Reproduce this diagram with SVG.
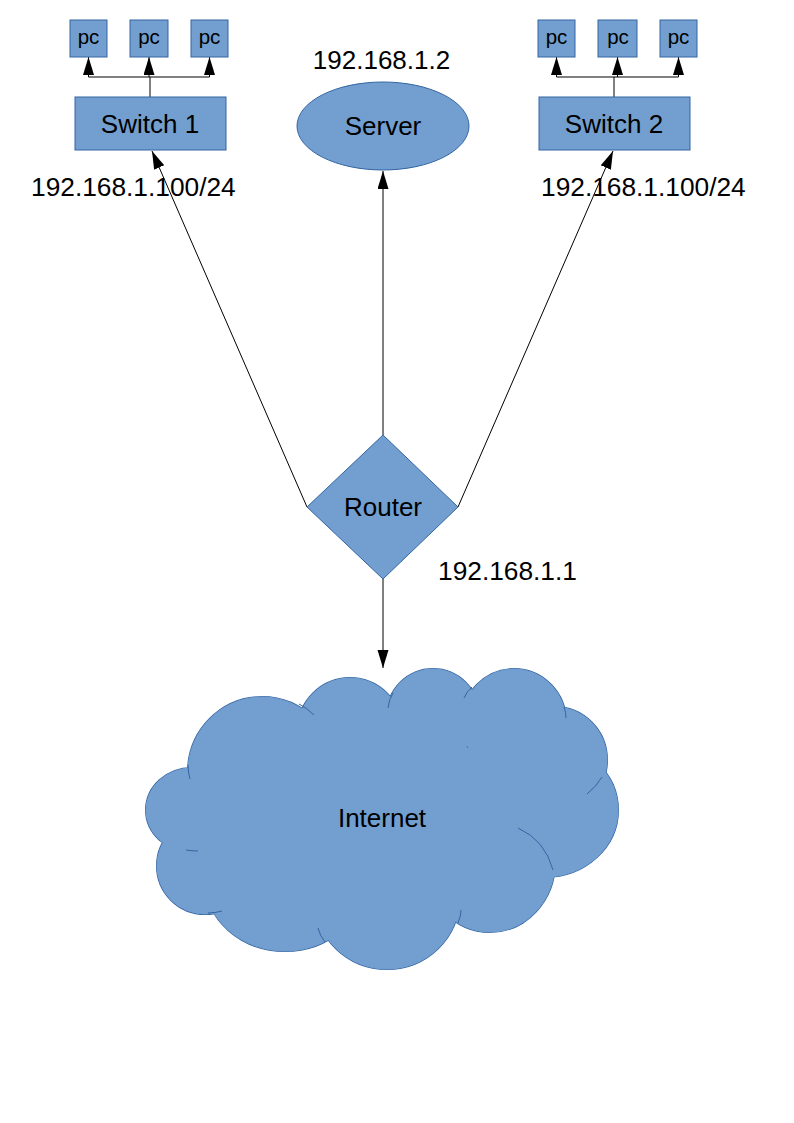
<svg xmlns="http://www.w3.org/2000/svg" xmlns:xlink="http://www.w3.org/1999/xlink" width="794" height="1123" viewBox="0 0 794 1123">
<style>
.shape{fill:#729fcf;stroke:#3465a4;stroke-width:1}
.lbl{font-family:"Liberation Sans",Arial,sans-serif;font-size:26px;fill:#000;text-anchor:middle}
.pc{font-family:"Liberation Sans",Arial,sans-serif;font-size:20.5px;fill:#000;text-anchor:middle}
.ip{font-family:"Liberation Sans",Arial,sans-serif;font-size:26.3px;fill:#000}
.conn{stroke:#000;stroke-width:1;fill:none}
.cfill{fill:#729fcf;stroke:#729fcf;stroke-width:1}
.cstroke{fill:#729fcf;stroke:#3465a4;stroke-width:2}
.hook{fill:none;stroke:#3465a4;stroke-width:1}
</style>
<defs>
<marker id="arr" markerUnits="userSpaceOnUse" markerWidth="18" markerHeight="12" refX="18" refY="5.5" orient="auto">
<path d="M0,0 L18,5.5 L0,11 z" fill="#000"/>
</marker>
<g id="cloudParts">
<ellipse cx="262" cy="772" rx="74" ry="75"/>
<ellipse cx="350" cy="730" rx="52" ry="52"/>
<ellipse cx="433" cy="715" rx="46" ry="46"/>
<ellipse cx="514" cy="722" rx="52" ry="53"/>
<ellipse cx="555" cy="760" rx="52" ry="53"/>
<ellipse cx="545" cy="810" rx="73" ry="67"/>
<ellipse cx="490" cy="862" rx="65" ry="70"/>
<ellipse cx="387" cy="899" rx="72" ry="70"/>
<ellipse cx="285" cy="880" rx="80" ry="71"/>
<ellipse cx="205" cy="866" rx="48" ry="48"/>
<ellipse cx="192" cy="810" rx="46" ry="42"/>
<ellipse cx="360" cy="820" rx="180" ry="90"/>
</g>
</defs>
<rect width="794" height="1123" fill="#fff"/>

<g id="connectors">
<line class="conn" x1="150" y1="97" x2="150" y2="77"/>
<line class="conn" x1="88.5" y1="77" x2="209.5" y2="77"/>
<line class="conn" x1="88.5" y1="77" x2="88.5" y2="57" marker-end="url(#arr)"/>
<line class="conn" x1="149" y1="77" x2="149" y2="57" marker-end="url(#arr)"/>
<line class="conn" x1="209.5" y1="77" x2="209.5" y2="57" marker-end="url(#arr)"/>
<line class="conn" x1="614" y1="97" x2="614" y2="77"/>
<line class="conn" x1="556.5" y1="77" x2="678.5" y2="77"/>
<line class="conn" x1="556.5" y1="77" x2="556.5" y2="57" marker-end="url(#arr)"/>
<line class="conn" x1="617.5" y1="77" x2="617.5" y2="57" marker-end="url(#arr)"/>
<line class="conn" x1="678.5" y1="77" x2="678.5" y2="57" marker-end="url(#arr)"/>
<line class="conn" x1="307" y1="507" x2="152" y2="151" marker-end="url(#arr)"/>
<line class="conn" x1="383" y1="435" x2="383" y2="171" marker-end="url(#arr)"/>
<line class="conn" x1="458" y1="507" x2="613" y2="151" marker-end="url(#arr)"/>
<line class="conn" x1="383" y1="579" x2="383" y2="668" marker-end="url(#arr)"/>
</g>

<g id="pc1"><rect class="shape" x="70" y="20" width="37" height="37"/><text class="pc" x="88.5" y="44">pc</text></g>
<g id="pc2"><rect class="shape" x="130" y="20" width="38" height="37"/><text class="pc" x="149" y="44">pc</text></g>
<g id="pc3"><rect class="shape" x="191" y="20" width="37" height="37"/><text class="pc" x="209.5" y="44">pc</text></g>
<g id="pc4"><rect class="shape" x="538" y="20" width="37" height="37"/><text class="pc" x="556.5" y="44">pc</text></g>
<g id="pc5"><rect class="shape" x="598" y="20" width="39" height="37"/><text class="pc" x="618" y="44">pc</text></g>
<g id="pc6"><rect class="shape" x="660" y="20" width="37" height="37"/><text class="pc" x="678.5" y="44">pc</text></g>

<g id="switch1"><rect class="shape" x="75" y="97" width="151" height="53"/><text class="lbl" x="150" y="133">Switch 1</text></g>
<g id="switch2"><rect class="shape" x="539" y="97" width="151" height="53"/><text class="lbl" x="614" y="133">Switch 2</text></g>

<g id="server"><ellipse class="shape" cx="383" cy="126" rx="86" ry="44"/><text class="lbl" x="383" y="135">Server</text></g>
<text class="lbl" x="381.5" y="69">192.168.1.2</text>

<g id="router"><path class="shape" d="M383,435 L458,507 L383,579 L307,507 z"/><text class="lbl" x="383" y="516">Router</text></g>

<text class="ip" x="31" y="196">192.168.1.100/24</text>
<text class="ip" x="541" y="196">192.168.1.100/24</text>
<text class="ip" x="438" y="580">192.168.1.1</text>

<g id="internet">
<use xlink:href="#cloudParts" class="cstroke"/>
<use xlink:href="#cloudParts" class="cfill"/>
<path class="hook" d="M299,704 Q307,708 314,715"/>
<path class="hook" d="M388,708 Q389,699 393,693"/>
<path class="hook" d="M464,698 Q467,691 472,687"/>
<path class="hook" d="M564,707 Q566,712 566,718"/>
<path class="hook" d="M602,777 Q596,787 587,794"/>
<path class="hook" d="M518,828 Q545,840 553,870"/>
<path class="hook" d="M458,923 Q461,916 461,910"/>
<path class="hook" d="M325,942 Q320,936 318,928"/>
<path class="hook" d="M222,911 Q215,913 208,913"/>
<path class="hook" d="M186,850 Q192,851 198,851"/>
<path class="hook" d="M190,779 Q188,772 188,765"/>
<text class="lbl" x="382" y="827">Internet</text>
</g>
</svg>
